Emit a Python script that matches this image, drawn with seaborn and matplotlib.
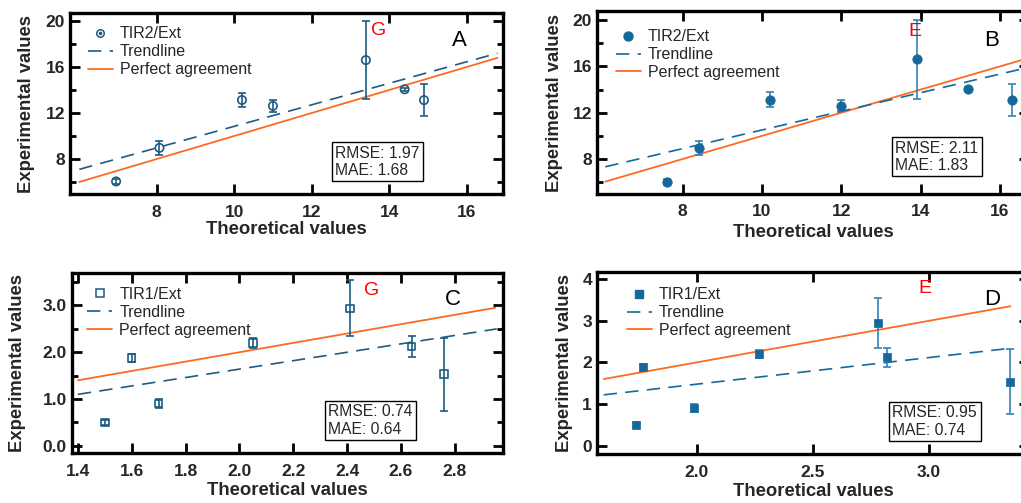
import matplotlib
matplotlib.use("Agg")
import matplotlib.pyplot as plt
import seaborn as sns
import numpy as np
import pandas as pd
from matplotlib.lines import Line2D
from matplotlib.legend_handler import HandlerTuple
from matplotlib.ticker import FormatStrFormatter, FixedLocator

# ---------------- data ----------------
theo_A = [6.95, 8.07, 10.2, 11.0, 13.4, 14.4, 14.9]
theo_B = [7.6, 8.4, 10.2, 12.0, 13.9, 15.2, 16.3]
exp_TIR2 = [6.05, 8.97, 13.13, 12.62, 16.6, 14.06, 13.12]
err_TIR2 = [0.25, 0.58, 0.63, 0.5, 3.4, 0.15, 1.4]

theo_C = [1.50, 1.60, 1.70, 2.05, 2.41, 2.64, 2.76]
theo_D = [1.74, 1.77, 1.99, 2.27, 2.78, 2.82, 3.35]
exp_TIR1 = [0.5, 1.88, 0.9, 2.2, 2.94, 2.12, 1.53]
err_TIR1 = [0.06, 0.08, 0.1, 0.1, 0.6, 0.22, 0.78]

trend_A_x = [6.0, 16.8]
trend_A_y = [7.1, 17.2]
perfect_A_x = [6.0, 16.8]
trend_B_x = [6.05, 16.7]
trend_B_y = [7.33, 15.9]
perfect_B_x = [6.05, 16.7]
trend_C_x = [1.40, 2.956]
trend_C_y = [1.10, 2.50]
perfect_C_x = [1.40, 2.95]
trend_D_x = [1.60, 3.35]
trend_D_y = [1.22, 2.34]
perfect_D_x = [1.60, 3.35]

metrics = {"A": ("1.97", "1.68"), "B": ("2.11", "1.83"),
           "C": ("0.74", "0.64"), "D": ("0.95", "0.74")}
series_labels = {"A": "TIR2/Ext", "B": "TIR2/Ext", "C": "TIR1/Ext", "D": "TIR1/Ext"}
compound = {"A": "G", "B": "E", "C": "G", "D": "E"}

# ---------------- style ----------------
sns.set_style("ticks")
plt.rcParams["font.family"] = ["Liberation Sans", "DejaVu Sans"]

DARK = "#1d5b82"
MID = "#16689b"
ERR_B = "#3182b6"
ORANGE = "#ff6a22"

fig = plt.figure(figsize=(10.21, 5.03), dpi=100)

specs = {
    "A": dict(pos=[0.06856, 0.6137, 0.4241, 0.3610], x=theo_A, y=exp_TIR2, e=err_TIR2,
              tx=trend_A_x, ty=trend_A_y, px=perfect_A_x,
              xlim=(5.76, 16.94), ylim=(4.93, 20.72),
              xt=[8, 10, 12, 14, 16], xtl=None, yt=[8, 12, 16, 20], ytl=None, ymin=[6, 10, 14, 18],
              marker="o", filled=False, dot=True, color=DARK, ecolor=DARK, ms=6.0,
              leg=(0.041, 0.925), letter=(0.90, 0.845), comp=(0.712, 0.902),
              box=(0.612, 0.09), xlab=-0.145, ylab=-0.081),
    "B": dict(pos=[0.5847, 0.6143, 0.4231, 0.3638], x=theo_B, y=exp_TIR2, e=err_TIR2,
              tx=trend_B_x, ty=trend_B_y, px=perfect_B_x,
              xlim=(5.84, 16.73), ylim=(4.98, 20.78),
              xt=[8, 10, 12, 14, 16], xtl=None, yt=[8, 12, 16, 20], ytl=None, ymin=[6, 10, 14, 18],
              marker="o", filled=True, dot=False, color=MID, ecolor=ERR_B, ms=6.8,
              leg=(0.044, 0.9), letter=(0.914, 0.84), comp=(0.736, 0.887),
              box=(0.69, 0.115), xlab=-0.162, ylab=-0.078),
    "C": dict(pos=[0.0702, 0.0988, 0.4227, 0.3590], x=theo_C, y=exp_TIR1, e=err_TIR1,
              tx=trend_C_x, ty=trend_C_y, px=perfect_C_x,
              xlim=(1.377, 2.98), ylim=(-0.16, 3.70),
              xt=[1.4, 1.6, 1.8, 2.0, 2.2, 2.4, 2.6, 2.8], xtl="%.1f",
              yt=[0, 1, 2, 3], ytl="%.1f", ymin=[0.5, 1.5, 2.5, 3.5],
              marker="s", filled=False, dot=False, color=DARK, ecolor=DARK, ms=5.4,
              leg=(0.036, 0.921), letter=(0.884, 0.853), comp=(0.695, 0.904),
              box=(0.594, 0.093), xlab=-0.16, ylab=-0.106),
    "D": dict(pos=[0.5847, 0.0968, 0.4231, 0.3630], x=theo_D, y=exp_TIR1, e=err_TIR1,
              tx=trend_D_x, ty=trend_D_y, px=perfect_D_x,
              xlim=(1.571, 3.43), ylim=(-0.21, 4.18),
              xt=[2.0, 2.5, 3.0], xtl="%.1f", yt=[0, 1, 2, 3, 4], ytl=None, ymin=[],
              marker="s", filled=True, dot=False, color=MID, ecolor=ERR_B, ms=6.0,
              leg=(0.069, 0.915), letter=(0.914, 0.849), comp=(0.76, 0.909),
              box=(0.684, 0.09), xlab=-0.155, ylab=-0.056),
}

for key, s in specs.items():
    ax = fig.add_axes(s["pos"])
    df = pd.DataFrame({"theo": s["x"], "exp": s["y"], "err": s["e"]})
    # error bars
    ax.errorbar(df["theo"], df["exp"], yerr=df["err"], fmt="none",
                ecolor=s["ecolor"], elinewidth=1.2, capsize=2.6, capthick=1.2, zorder=2)
    # points
    if s["filled"]:
        sns.scatterplot(data=df, x="theo", y="exp", ax=ax, marker=s["marker"],
                        color=s["color"], edgecolor=s["color"], s=s["ms"] ** 2,
                        linewidth=0.5, zorder=3, legend=False)
    else:
        sns.scatterplot(data=df, x="theo", y="exp", ax=ax, marker=s["marker"],
                        facecolor="none", edgecolor=s["color"], s=s["ms"] ** 2,
                        linewidth=1.2, zorder=3, legend=False)
    # trend line and perfect agreement
    tdf = pd.DataFrame({"x": s["tx"], "y": s["ty"]})
    pdf = pd.DataFrame({"x": s["px"], "y": s["px"]})
    sns.lineplot(data=pdf, x="x", y="y", ax=ax, color=ORANGE, lw=1.3, zorder=1)
    sns.lineplot(data=tdf, x="x", y="y", ax=ax, color=s["color"], lw=1.2, zorder=1)
    ax.lines[-1].set_dashes([8, 5])

    ax.set_xlim(*s["xlim"])
    ax.set_ylim(*s["ylim"])
    ax.xaxis.set_major_locator(FixedLocator(s["xt"]))
    ax.yaxis.set_major_locator(FixedLocator(s["yt"]))
    if s["ymin"]:
        ax.yaxis.set_minor_locator(FixedLocator(s["ymin"]))
    if s["xtl"]:
        ax.xaxis.set_major_formatter(FormatStrFormatter(s["xtl"]))
    if s["ytl"]:
        ax.yaxis.set_major_formatter(FormatStrFormatter(s["ytl"]))

    for sp in ax.spines.values():
        sp.set_visible(True)
        sp.set_linewidth(2.4)
        sp.set_color("black")
    ax.tick_params(which="both", direction="in", top=True, right=True,
                   width=2.0, color="black")
    ax.tick_params(which="major", length=7.5)
    ax.tick_params(which="minor", length=4.5)
    ax.tick_params(axis="x", which="major", pad=7.5, labelsize=12.5)
    ax.tick_params(axis="y", which="major", pad=3.5, labelsize=12.5)
    for lab in ax.get_xticklabels() + ax.get_yticklabels():
        lab.set_fontweight("bold")

    ax.set_xlabel("Theoretical values", fontsize=13.3, fontweight="bold")
    ax.set_ylabel("Experimental values", fontsize=13.3, fontweight="bold")
    ax.xaxis.set_label_coords(0.5, s["xlab"])
    ax.yaxis.set_label_coords(s["ylab"], 0.5)

    # legend
    if s["filled"]:
        h_pt = Line2D([], [], ls="none", marker=s["marker"], ms=s["ms"] * 0.95,
                      mfc=s["color"], mec=s["color"])
    elif s["dot"]:
        h_pt = (Line2D([], [], ls="none", marker="o", ms=s["ms"] * 0.9,
                       mfc="none", mec=s["color"], mew=1.1),
                Line2D([], [], ls="none", marker="o", ms=1.6, mfc=s["color"], mec=s["color"]))
    else:
        h_pt = Line2D([], [], ls="none", marker=s["marker"], ms=s["ms"],
                      mfc="none", mec=s["color"], mew=1.1)
    h_tr = Line2D([], [], color=s["color"], lw=1.2, dashes=[8, 5])
    h_pf = Line2D([], [], color=ORANGE, lw=1.3)
    ax.legend([h_pt, h_tr, h_pf], [series_labels[key], "Trendline", "Perfect agreement"],
              loc="upper left", bbox_to_anchor=s["leg"], frameon=False, fontsize=11.5,
              borderpad=0, borderaxespad=0, handlelength=1.55, handletextpad=0.45,
              labelspacing=0.18, handler_map={tuple: HandlerTuple(ndivide=1, pad=0)})

    ax.text(*s["letter"], key, transform=ax.transAxes, fontsize=16,
            ha="center", va="center", color="black")
    ax.text(*s["comp"], compound[key], transform=ax.transAxes, fontsize=14,
            ha="center", va="center", color="red")
    r, m = metrics[key]
    ax.text(*s["box"], f"RMSE: {r}\nMAE: {m}", transform=ax.transAxes, fontsize=11.3,
            ha="left", va="bottom", linespacing=1.2,
            bbox=dict(boxstyle="square,pad=0.22", fc="white", ec="black", lw=1.0))

fig.savefig("out.png", dpi=100)
